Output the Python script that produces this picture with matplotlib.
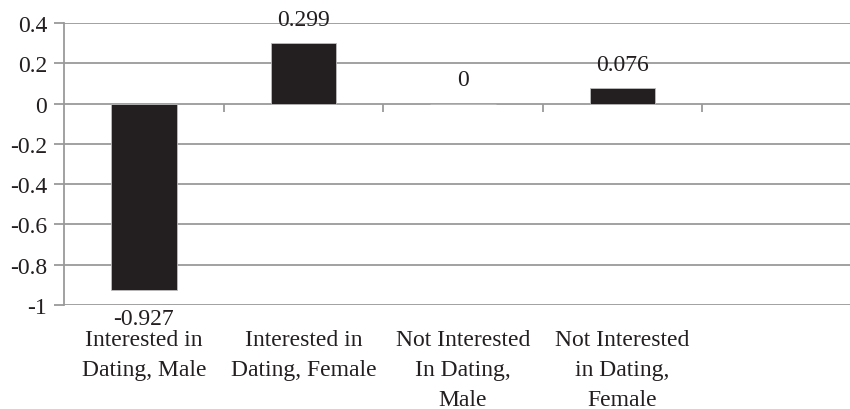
import matplotlib
matplotlib.use("Agg")
import matplotlib.pyplot as plt
from matplotlib import font_manager
import numpy as np

categories = [
    "Interested in\nDating, Male",
    "Interested in\nDating, Female",
    "Not Interested\nIn Dating,\nMale",
    "Not Interested\nin Dating,\nFemale",
]
values = [-0.927, 0.299, 0.0, 0.076]
y_ticks = [-1.0, -0.8, -0.6, -0.4, -0.2, 0.0, 0.2, 0.4]
y_tick_labels = ["-1", "-0.8", "-0.6", "-0.4", "-0.2", "0", "0.2", "0.4"]
n_slots = 5  # one spare empty category slot on the right

available = {f.name for f in font_manager.fontManager.ttflist}
serif_choice = [f for f in ["Liberation Serif", "Times New Roman", "DejaVu Serif"] if f in available]
plt.rcParams["font.family"] = "serif"
plt.rcParams["font.serif"] = serif_choice + ["DejaVu Serif"]

FS = 17
GRID = "#9a9a9a"
BAR = "#231f20"

fig = plt.figure(figsize=(8.5, 4.1), dpi=100)
ax = fig.add_axes([64 / 850, 104 / 410, (862 - 64) / 850, 282 / 410])

x = np.arange(len(values))
ax.bar(x, values, width=0.41, color=BAR, edgecolor="#bdbdbd", linewidth=0.6, zorder=3)

ax.set_xlim(-0.5, n_slots - 0.5)
ax.set_ylim(-1.0, 0.4)

# horizontal gridlines
ax.set_yticks(y_ticks)
ax.set_yticklabels(y_tick_labels, fontsize=FS, color="#231f20")
ax.yaxis.grid(True, color=GRID, linewidth=1.3, zorder=0)
ax.tick_params(axis="y", direction="out", length=7, width=1.3, color=GRID, pad=5)

# category labels below the plot
ax.set_xticks(x)
ax.set_xticklabels(categories, fontsize=FS, color="#231f20", linespacing=1.55, va="top")
ax.tick_params(axis="x", length=0, pad=17.5)

for side in ["top", "right", "bottom"]:
    ax.spines[side].set_visible(False)
ax.spines["left"].set_color(GRID)
ax.spines["left"].set_linewidth(1.3)

# category boundary ticks on the zero line
bounds = np.arange(n_slots) + 0.5
ax.plot(bounds, np.zeros_like(bounds), ls="none", marker=3, ms=6,
        mec=GRID, mew=1.3, zorder=2, clip_on=False)

# value labels
for xi, v in zip(x, values):
    off = 17 if v >= 0 else -20
    ax.annotate(f"{v:g}", (xi, v), xytext=(0, off), textcoords="offset points",
                ha="center", va="center", fontsize=FS, color="#231f20", zorder=4)

fig.savefig("out.png", dpi=100)
